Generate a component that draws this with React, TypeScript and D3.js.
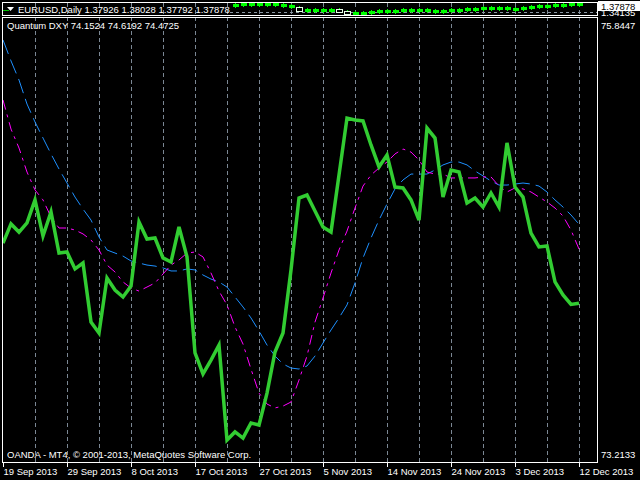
import React from "react";
import * as d3 from "d3";

// ---- data ----
const dateLabels = ["19 Sep 2013", "29 Sep 2013", "8 Oct 2013", "17 Oct 2013", "27 Oct 2013", "5 Nov 2013", "14 Nov 2013", "24 Nov 2013", "3 Dec 2013", "12 Dec 2013"];
const dateLabelBars = [0, 8, 16, 24, 32, 40, 48, 56, 64, 72];

const dxyMain = [
  74.508, 74.621, 74.573, 74.627, 74.763, 74.550, 74.692, 74.449, 74.455, 74.355,
  74.390, 74.041, 73.976, 74.301, 74.230, 74.189, 74.254, 74.633, 74.532, 74.538,
  74.420, 74.396, 74.603, 74.426, 73.858, 73.734, 73.816, 73.905, 73.343, 73.391,
  73.355, 73.444, 73.432, 73.621, 73.864, 73.976, 74.349, 74.774, 74.792, 74.698,
  74.603, 74.573, 74.910, 75.247, 75.236, 75.230, 75.088, 74.958, 75.029, 74.839,
  74.834, 74.763, 74.644, 75.188, 75.129, 74.780, 74.940, 74.928, 74.745, 74.774,
  74.721, 74.804, 74.721, 75.100, 74.839, 74.780, 74.567, 74.485, 74.491, 74.278,
  74.201, 74.145, 74.1524,
];
const dxySlow = [
  75.709, 75.585, 75.472, 75.330, 75.224, 75.129, 75.035, 74.946, 74.863, 74.780,
  74.709, 74.644, 74.544, 74.467, 74.449, 74.431, 74.402, 74.390, 74.378, 74.372,
  74.361, 74.343, 74.343, 74.355, 74.349, 74.319, 74.295, 74.278, 74.248, 74.189,
  74.130, 74.065, 73.988, 73.905, 73.840, 73.793, 73.769, 73.763, 73.781, 73.840,
  73.917, 73.994, 74.065, 74.142, 74.272, 74.420, 74.538, 74.644, 74.739, 74.828,
  74.881, 74.916, 74.916, 74.916, 74.940, 74.970, 74.987, 74.987, 74.970, 74.934,
  74.905, 74.875, 74.851, 74.851, 74.857, 74.863, 74.857, 74.845, 74.810, 74.763,
  74.721, 74.674, 74.6192,
];
const dxyFast = [
  75.354, 75.182, 75.070, 74.928, 74.822, 74.763, 74.662, 74.597, 74.597, 74.585,
  74.562, 74.526, 74.467, 74.378, 74.337, 74.278, 74.242, 74.224, 74.248, 74.272,
  74.325, 74.378, 74.408, 74.449, 74.455, 74.426, 74.331, 74.224, 74.142, 74.012,
  73.911, 73.763, 73.621, 73.556, 73.533, 73.544, 73.568, 73.698, 73.840, 74.041,
  74.183, 74.331, 74.467, 74.579, 74.715, 74.845, 74.910, 74.952, 74.987, 75.035,
  75.064, 75.046, 74.999, 74.928, 74.916, 74.916, 74.893, 74.893, 74.893, 74.893,
  74.899, 74.899, 74.845, 74.810, 74.834, 74.828, 74.810, 74.780, 74.751, 74.715,
  74.668, 74.585, 74.4725,
];

// EURUSD daily closes for the visible candles (bars 29..72)
const eurFirstBar = 29;
const eurPrevClose = 1.3785;
const eurCloses = [
  1.3772, 1.3825, 1.3814, 1.3804, 1.3825, 1.3761, 1.3734, 1.3681, 1.3483, 1.3467,
  1.3467, 1.3483, 1.3520, 1.3430, 1.3344, 1.3344, 1.3376, 1.3430, 1.3467, 1.3430,
  1.3467, 1.3467, 1.3483, 1.3520, 1.3467, 1.3430, 1.3467, 1.3520, 1.3520, 1.3558,
  1.3574, 1.3611, 1.3611, 1.3611, 1.3574, 1.3558, 1.3611, 1.3665, 1.3718, 1.3750,
  1.3750, 1.3788, 1.3804, 1.37878,
];

const indScaleMin = 73.2133;
const indScaleMax = 75.8447;
const eurScaleMin = 1.3253;
const eurScaleMax = 1.3895;
const eurLevel = 1.34135;
const eurBid = "1.37878";

const titleText = "EURUSD,Daily  1.37926 1.38028 1.37792 1.37878";
const indTitle = "Quantum DXY 74.1524 74.6192 74.4725";
const copyright = "OANDA - MT4, \u00A9 2001-2013, MetaQuotes Software Corp.";

// ---- layout ----
const W = 640, H = 480;
const L = 2, R = 597;
const topT = 3, topB = 15;
const indT = 17, indB = 462;
const font = "'Liberation Sans', Arial, sans-serif";

export default function App() {
  const n = dxyMain.length;
  const x = d3.scaleLinear().domain([0, n - 1]).range([3, 579]);
  const y = d3.scaleLinear().domain([indScaleMin, indScaleMax]).range([indB, indT]);
  const ye = d3.scaleLinear().domain([eurScaleMin, eurScaleMax]).range([topB, topT]);
  const line = d3.line<number>().x((_, i) => x(i)).y((d) => y(d));

  const gridBars = d3.range(4, n, 4);

  const candles = eurCloses.map((c, k) => {
    const o = k === 0 ? eurPrevClose : eurCloses[k - 1];
    const bar = eurFirstBar + k;
    const cx = x(bar);
    const mid = ye((o + c) / 2);
    const raw = Math.abs(ye(o) - ye(c));
    const h = Math.max(3, Math.round(raw));
    const hollow = o > c && raw >= 1.5;
    return { cx: Math.round(cx), y1: Math.round(mid - h / 2), h, hollow, key: bar };
  });

  return (
    <svg width={W} height={H} style={{ position: "absolute", left: 0, top: 0, background: "#000" }} fontFamily={font}>
      <defs>
        <clipPath id="indClip"><rect x={L} y={indT} width={R - L} height={indB - indT} /></clipPath>
        <clipPath id="topClip"><rect x={L} y={topT} width={R - L} height={topB - topT} /></clipPath>
        <clipPath id="rlabClip"><rect x={R + 1} y={0} width={W - R} height={topB + 1} /></clipPath>
      </defs>
      <rect x={0} y={0} width={W} height={H} fill="#000" />

      {/* grid */}
      <g stroke="#7b8794" strokeWidth={1} strokeDasharray="4,3" shapeRendering="crispEdges">
        {gridBars.map((b) => (
          <line key={"g" + b} x1={Math.round(x(b)) + 0.5} x2={Math.round(x(b)) + 0.5} y1={indT} y2={indB} />
        ))}
        {gridBars.map((b) => (
          <line key={"gt" + b} x1={Math.round(x(b)) + 0.5} x2={Math.round(x(b)) + 0.5} y1={topT} y2={topB} />
        ))}
      </g>

      {/* top window: EURUSD candles */}
      <g clipPath="url(#topClip)">
        <line x1={230} x2={R} y1={Math.round(ye(eurLevel)) + 0.5} y2={Math.round(ye(eurLevel)) + 0.5}
          stroke="#8a96a3" strokeDasharray="3,3" shapeRendering="crispEdges" />
        {candles.map((c) => (
          <g key={c.key} shapeRendering="crispEdges">
            <line x1={c.cx + 0.5} x2={c.cx + 0.5} y1={c.y1 - 1} y2={c.y1 + c.h + 1} stroke="#00ff00" />
            {c.hollow ? (
              <rect x={c.cx - 2.5} y={c.y1 + 0.5} width={6} height={c.h} fill="#000" stroke="#e8ffe8" />
            ) : (
              <rect x={c.cx - 2} y={c.y1} width={6} height={c.h} fill="#00ff00" />
            )}
          </g>
        ))}
      </g>
      {/* top-left icon and title */}
      <rect x={2} y={4} width={14} height={10} fill="#000" />
      <line x1={3} x2={9} y1={10.5} y2={10.5} stroke="#00c000" />
      <path d="M7,7 L14,7 L10.5,11 Z" fill="#ffffff" />
      <text x={18} y={13} fontSize={9.5} fill="#ffffff">{titleText}</text>

      {/* indicator lines */}
      <g clipPath="url(#indClip)" fill="none">
        <path d={line(dxySlow) || ""} stroke="#1e90ff" strokeWidth={1} strokeDasharray="15,6" />
        <path d={line(dxyFast) || ""} stroke="#ff00ff" strokeWidth={1} strokeDasharray="10,5,3,5" />
        <path d={line(dxyMain) || ""} stroke="#32cd32" strokeWidth={3.5} strokeLinejoin="miter" />
      </g>

      {/* frames */}
      <g stroke="#ffffff" fill="none" shapeRendering="crispEdges">
        <rect x={L + 0.5} y={topT - 0.5} width={R - L} height={topB - topT + 0.5} />
        <rect x={L + 0.5} y={indT + 0.5} width={R - L} height={indB - indT} />
      </g>

      {/* time axis */}
      <g shapeRendering="crispEdges">
        {dateLabelBars.map((b, k) => (
          <g key={"t" + b}>
            <line x1={Math.round(x(b)) + 0.5} x2={Math.round(x(b)) + 0.5} y1={indB} y2={indB + 5} stroke="#ffffff" />
            <text x={Math.round(x(b)) + 0.5} y={475} fontSize={9.5} fill="#ffffff">{dateLabels[k]}</text>
          </g>
        ))}
      </g>

      {/* price axis labels */}
      <g clipPath="url(#rlabClip)">
        <text x={601} y={16} fontSize={9.5} fill="#ffffff">{eurLevel.toFixed(5)}</text>
        <rect x={598} y={1} width={42} height={10} fill="#ffffff" />
        <text x={601} y={9.5} fontSize={9.5} fill="#000000">{eurBid}</text>
      </g>
      <text x={601} y={28.5} fontSize={9.5} fill="#ffffff">{indScaleMax.toFixed(4)}</text>
      <text x={601} y={458} fontSize={9.5} fill="#ffffff">{indScaleMin.toFixed(4)}</text>

      {/* window texts */}
      <text x={7} y={28.5} fontSize={9.5} fill="#ffffff">{indTitle}</text>
      <text x={7} y={458} fontSize={9.5} fill="#ffffff">{copyright}</text>
    </svg>
  );
}
